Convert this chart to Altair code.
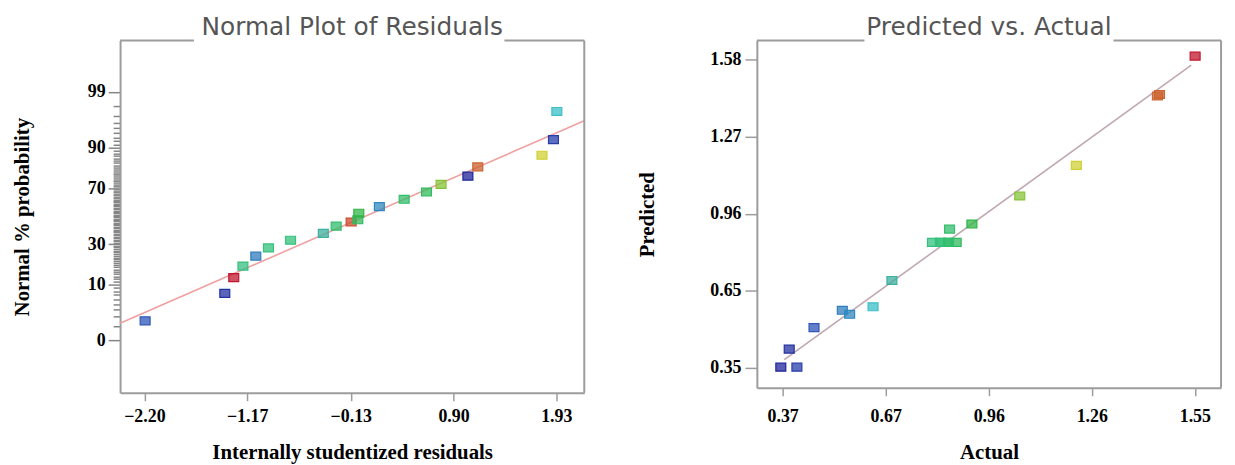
import altair as alt
import pandas as pd
from statistics import NormalDist

nd = NormalDist()

# ---------------- Left panel: Normal plot of residuals ----------------
resid = [-2.193, -1.394, -1.304, -1.212, -1.083, -0.956, -0.734, -0.406, -0.277, -0.127,
         -0.060, -0.050, 0.156, 0.405, 0.629, 0.775, 1.044, 1.143, 1.787, 1.902, 1.936]
prob = [2.5, 7.4, 12.5, 17.5, 22.7, 27.6, 32.6, 37.4, 42.6, 45.6,
        47.3, 52.2, 57.1, 62.4, 67.4, 72.4, 77.3, 82.2, 87.3, 92.4, 97.5]
run_actual = [0.460, 0.389, 1.551, 0.800, 0.541, 0.820, 0.822, 0.683, 0.845, 1.480,
              0.867, 0.912, 0.562, 0.848, 0.867, 1.049, 0.365, 1.449, 1.211, 0.411, 0.629]
fit_resid = [-2.444, 2.211]
fit_prob = [2.25, 96.3]
x_ticks_left = [-2.20, -1.17, -0.13, 0.90, 1.93]
prob_major = [1, 10, 30, 70, 90, 99]
prob_major_labels = ["0", "10", "30", "70", "90", "99"]
prob_minor = list(range(1, 100))

# ---------------- Right panel: Predicted vs. Actual ----------------
actual = [0.365, 0.411, 0.389, 0.460, 0.541, 0.562, 0.629, 0.683,
          0.799, 0.822, 0.845, 0.867, 0.822, 0.845, 0.848, 0.912,
          1.049, 1.211, 1.443, 1.449, 1.551]
predicted = [0.350, 0.350, 0.422, 0.508, 0.577, 0.561, 0.591, 0.696,
             0.848, 0.848, 0.848, 0.848, 0.848, 0.848, 0.901, 0.921,
             1.033, 1.155, 1.432, 1.438, 1.591]
diag_actual = [0.375, 1.540]
diag_pred = [0.380, 1.555]
x_ticks_right = [0.3702, 0.6652, 0.9602, 1.2552, 1.5502]
y_ticks_right = [0.3470, 0.6543, 0.9617, 1.2690, 1.5763]

# ---------------- styling ----------------
FRAME = "#9c9c9c"
SERIF = "Liberation Serif"
RECT = "M-1,-0.8L1,-0.8L1,0.8L-1,0.8Z"
W = 468
H_L = 355
H_R = 350

color_scale = alt.Scale(
    domain=[0.35, 0.46, 0.56, 0.63, 0.69, 0.82, 0.91, 1.05, 1.21, 1.44, 1.55],
    range=["#1c1c96", "#2f55b8", "#2f86c0", "#3cc0c8", "#3cae98", "#34c27c",
           "#2fb545", "#86c43a", "#d0d035", "#cc6a30", "#c0182e"],
    interpolate="rgb",
)

def frame_layers(w, h, gap_l, gap_r):
    fdf = pd.DataFrame({"k": [0]})
    base = alt.Chart(fdf).mark_rule(color=FRAME, strokeWidth=2)
    right = base.encode(x=alt.value(w), y=alt.value(0), y2=alt.value(h))
    top_l = base.encode(x=alt.value(0), x2=alt.value(gap_l), y=alt.value(0))
    top_r = base.encode(x=alt.value(gap_r), x2=alt.value(w), y=alt.value(0))
    return [right, top_l, top_r]

def title(text):
    return alt.TitleParams(text, font="DejaVu Sans", fontSize=25, fontWeight="normal",
                           color="#555555", anchor="middle", frame="group",
                           baseline="alphabetic", offset=-20)

# left data
z_pts = [nd.inv_cdf(p / 100) for p in prob]
left_df = pd.DataFrame({"resid": resid, "z": z_pts, "actual": run_actual})
fit_df = pd.DataFrame({"resid": fit_resid, "z": [nd.inv_cdf(p / 100) for p in fit_prob]})

z_minor = [round(nd.inv_cdf(p / 100), 5) for p in prob_minor]
z_major = [round(nd.inv_cdf(p / 100), 5) for p in prob_major]
minor_test = " && ".join(f"datum.value !== {z!r}" for z in z_major)
label_expr = ""
for z, lab in zip(z_major, prob_major_labels):
    label_expr += f"datum.value === {z!r} ? '{lab}' : "
label_expr += "''"

xs_l = alt.Scale(domain=[-2.444, 2.211], nice=False, zero=False)
ys_l = alt.Scale(domain=[-3.305, 3.286], nice=False, zero=False)

x_axis_l = alt.Axis(values=x_ticks_left, format=".2f", tickSize=8, labelPadding=7,
                    title="Internally studentized residuals", titlePadding=16)
y_axis_l = alt.Axis(values=z_minor, labelExpr=label_expr, labelOverlap=False,
                    tickSize={"condition": {"test": minor_test, "value": 7}, "value": 12},
                    tickColor="#858585",
                    labelPadding=3, title="Normal % probability", titlePadding=55)

fit_l = alt.Chart(fit_df).mark_line(color="#f0a0a0", strokeWidth=1.6).encode(
    x=alt.X("resid:Q", scale=xs_l, axis=x_axis_l),
    y=alt.Y("z:Q", scale=ys_l, axis=y_axis_l),
)
pts_l = alt.Chart(left_df).mark_point(shape=RECT, size=100, filled=True, fillOpacity=0.75,
                                      strokeWidth=1.2, strokeOpacity=1).encode(
    x=alt.X("resid:Q", scale=xs_l, axis=x_axis_l),
    y=alt.Y("z:Q", scale=ys_l, axis=y_axis_l),
    color=alt.Color("actual:Q", scale=color_scale, legend=None),
    stroke=alt.Stroke("actual:Q", scale=color_scale, legend=None),
)
left = alt.layer(fit_l, pts_l, *frame_layers(W, H_L, 74.5, 387.5)).properties(
    width=W, height=H_L, title=title("Normal Plot of Residuals"))

# right data
right_df = pd.DataFrame({"actual": actual, "predicted": predicted})
diag_df = pd.DataFrame({"actual": diag_actual, "predicted": diag_pred})
xs_r = alt.Scale(domain=[0.2964, 1.6252], nice=False, zero=False)
ys_r = alt.Scale(domain=[0.2679, 1.6529], nice=False, zero=False)
x_axis_r = alt.Axis(values=x_ticks_right, format=".2f", tickSize=8, labelPadding=12,
                    title="Actual", titlePadding=16)
y_axis_r = alt.Axis(values=y_ticks_right, format=".2f", tickSize=12, labelPadding=4,
                    title="Predicted", titlePadding=53)

diag = alt.Chart(diag_df).mark_line(color="#c0a8b0", strokeWidth=1.6).encode(
    x=alt.X("actual:Q", scale=xs_r, axis=x_axis_r),
    y=alt.Y("predicted:Q", scale=ys_r, axis=y_axis_r),
)
pts_r = alt.Chart(right_df).mark_point(shape=RECT, size=100, filled=True, fillOpacity=0.75,
                                       strokeWidth=1.2, strokeOpacity=1).encode(
    x=alt.X("actual:Q", scale=xs_r, axis=x_axis_r),
    y=alt.Y("predicted:Q", scale=ys_r, axis=y_axis_r),
    color=alt.Color("actual:Q", scale=color_scale, legend=None),
    stroke=alt.Stroke("actual:Q", scale=color_scale, legend=None),
)
right = alt.layer(diag, pts_r, *frame_layers(W, H_R, 108.5, 359.5)).properties(
    width=W, height=H_R, title=title("Predicted vs. Actual"))

chart = alt.hconcat(left, right, spacing=48).configure_view(stroke=None).configure_axis(
    labelFont=SERIF, labelFontSize=18, labelFontWeight="bold", labelColor="black",
    titleFont=SERIF, titleFontSize=21, titleFontWeight="bold", titleColor="black",
    domainColor=FRAME, domainWidth=2, tickColor=FRAME, tickWidth=1.5, grid=False,
).properties(padding={"left": 4, "top": 5, "right": 5, "bottom": 0}, background="white")

chart.save("out.html", embed_options={"renderer": "svg", "actions": False})
